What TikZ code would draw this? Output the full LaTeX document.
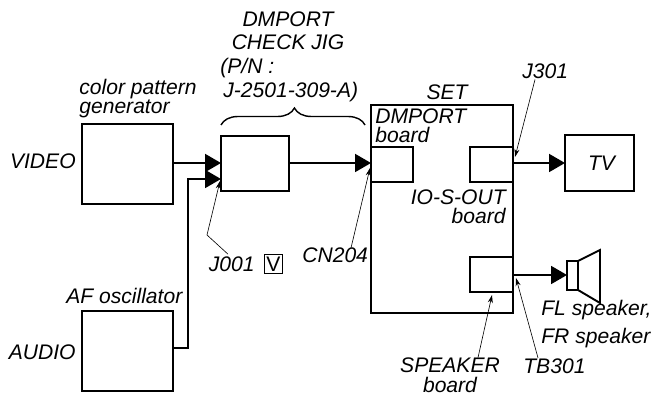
\documentclass[tikz,border=0pt]{standalone}
\usepackage{fontspec}
\setmainfont{Liberation Sans}
\usepackage{tikz}
\usetikzlibrary{positioning,arrows.meta,decorations.pathreplacing}

\begin{document}
\begin{tikzpicture}[
    x=0.02cm, y=-0.02cm,
    box/.style={draw, line width=1.1pt, inner sep=0pt, outer sep=0pt, anchor=north west},
    label/.style={inner sep=0pt, font=\fontsize{12}{11}\selectfont\itshape, align=left},
    arrow/.style={-{Triangle[length=0.32cm, width=0.36cm]}, line width=1.1pt},
    leader/.style={-{Stealth[length=1.6mm, width=1mm]}, line width=0.35pt}
]
\useasboundingbox (0,0) rectangle (651,394);

\node[box, minimum width=1.82cm, minimum height=1.6cm] (generator) at (82,124) {};
\node[box, minimum width=1.82cm, minimum height=1.6cm] (oscillator) at (82,311) {};
\node[box, minimum width=1.36cm, minimum height=1.1cm] (jig) at (221,136) {};
\node[box, minimum width=2.84cm, minimum height=4.16cm] (set) at (371,105) {};
\node[box, minimum width=0.84cm, minimum height=0.7cm] (dmport) at (371,147) {};
\node[box, minimum width=0.86cm, minimum height=0.7cm] (ioout) at (470,147) {};
\node[box, minimum width=0.86cm, minimum height=0.7cm] (spkboard) at (470,257) {};
\node[box, minimum width=1.38cm, minimum height=1.12cm] (tv) at (565,135) {};
\node[box, minimum width=0.22cm, minimum height=0.58cm] (driver) at (567,261) {};

\node[label, anchor=base west] (genlabel) at (79,114) {color pattern\\generator};
\node[label, anchor=base east] (video) at (76,169) {VIDEO};
\node[label, anchor=base west] (aflabel) at (66,303) {AF oscillator};
\node[label, anchor=base east] (audio) at (76,359) {AUDIO};
\node[label, anchor=base, align=center] (jigname) at (288,50) {DMPORT\\[2.6pt]CHECK JIG};
\node[label, anchor=base west] (partno) at (220,74) {(P/N :};
\node[label, anchor=base west] (partnum) at (223,98) {J-2501-309-A)};
\node[label, anchor=base] (setlabel) at (447,100) {SET};
\node[label, anchor=base west] (dmlabel) at (375,143) {DMPORT\\[0.3pt]board};
\node[label, anchor=base east, align=right] (iolabel) at (506,224) {IO-S-OUT\\board};
\node[label, anchor=base, align=center] (spklabel) at (450,392) {SPEAKER\\board};
\node[label, anchor=base west] (j301) at (522,79) {J301};
\node[label, anchor=base east] (j001) at (255,272) {J001};
\node[draw, line width=0.35pt, inner sep=0pt, minimum width=0.37cm, minimum height=0.38cm, font=\fontsize{12}{12}\selectfont] (vmark) at (273.5,264) {V};
\node[label, anchor=base west] (cn204) at (302,263) {CN204};
\node[label, anchor=base west] (tb301) at (523,373) {TB301};
\node[label, anchor=base west] (fllabel) at (541,343) {FL speaker,\\[3.2pt]FR speaker};
\node[label, xshift=0.04cm] (tvlabel) at (tv.center) {TV};

% signal path
\draw[arrow] (generator.east |- 0,163) -- (jig.west |- 0,163);
\draw[arrow] (oscillator.east |- 0,348) -| (188,179) -- (jig.west |- 0,179);
\draw[arrow] (jig.east |- 0,163) -- (dmport.west |- 0,163);
\draw[arrow] (ioout.east |- 0,163) -- (tv.west |- 0,163);
\draw[arrow] (spkboard.east |- 0,275) -- (driver.west |- 0,275);

% loudspeaker cone
\draw[line width=1.1pt] (driver.north east) -- (600,250) -- (600,303) -- (driver.south east);

% brace over the jig
\draw[line width=0.8pt, decorate, decoration={brace, amplitude=0.34cm, aspect=0.51}] (221,125) -- (365,125);

% leaders
\draw[leader] (vmark.north west -| 228,252) -- (207,235) -- (220,181);
\draw[leader] (cn204.north -| 351,243) -- (370,168);
\draw[leader] (j301.south -| 535,87) -- (515,157);
\draw[leader] (tb301.north -| 538,354) -- (516,278);
\draw[leader] (spklabel.north -| 478,352) -- (492,295);

\end{tikzpicture}
\end{document}
